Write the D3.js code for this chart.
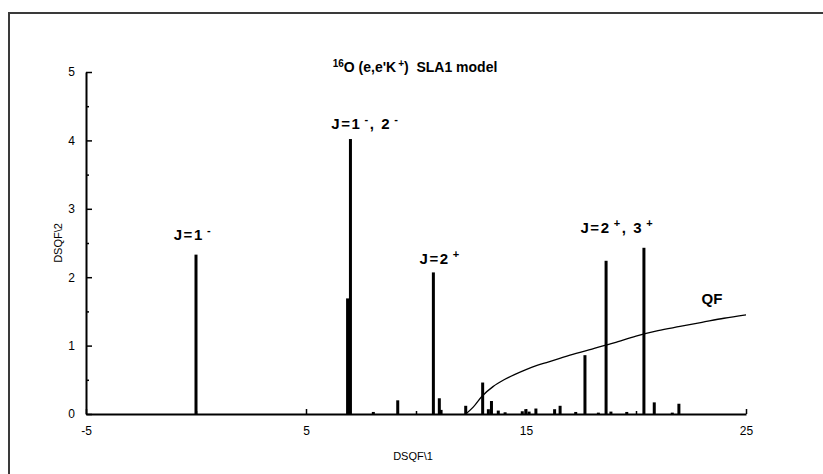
<!DOCTYPE html>
<html>
<meta charset="utf-8">
<head>
<script src="https://d3js.org/d3.v7.min.js"></script>
<style>
  body { margin: 0; background: #fff; }
  text { font-family: "Liberation Sans", Arial, sans-serif; }
</style>
</head>
<body>
<script>
// discrete peaks: position (DSQF\1) and strength (DSQF\2)
var peakE = [0, 6.89, 7.02, 8.06, 9.17, 10.79, 11.06, 11.14, 12.26, 13.03, 13.29, 13.43, 13.74, 14.05,
             14.83, 14.99, 15.14, 15.45, 16.3, 16.55, 17.26, 17.68, 18.29, 18.64, 18.86, 19.58,
             20.36, 20.83, 21.65, 21.95];
var peakS = [2.33, 1.69, 4.02, 0.03, 0.2, 2.07, 0.23, 0.06, 0.12, 0.46, 0.07, 0.19, 0.05, 0.025,
             0.04, 0.07, 0.035, 0.08, 0.07, 0.12, 0.03, 0.86, 0.02, 2.24, 0.035, 0.03,
             2.43, 0.17, 0.02, 0.15];

// quasi-free curve
var qfE = [12.26, 12.6, 13.0, 13.5, 14.0, 14.5, 15.0, 15.5, 16.0, 16.5, 17.0, 18.0, 19.0, 20.0, 21.0, 22.0, 23.0, 24.0, 25.0];
var qfS = [0, 0.1, 0.26, 0.4, 0.5, 0.58, 0.65, 0.71, 0.76, 0.81, 0.86, 0.95, 1.04, 1.14, 1.22, 1.28, 1.34, 1.40, 1.45];

var xTicks = [-5, 5, 15, 25];
var xMinor = [0, 10, 20];
var yTicks = [0, 1, 2, 3, 4, 5];
var yMinor = [0.5, 1.5, 2.5, 3.5, 4.5];

// peak labels: text pieces, 1 = superscript
var labels = [
  {x: -0.14, y: 2.55, parts: [["J=1", 0], ["-", 1]]},
  {x: 7.7,   y: 4.17, parts: [["J=1", 0], ["-", 1], [", 2", 0], ["-", 1]]},
  {x: 11.1,  y: 2.2,  parts: [["J=2", 0], ["+", 1]]},
  {x: 19.15, y: 2.65, parts: [["J=2", 0], ["+", 1], [", 3", 0], ["+", 1]]}
];

var W = 823, H = 474;
var svg = d3.select('body').append('svg').attr('width', W).attr('height', H);

// outer frame (only top and left edge visible)
svg.append('rect')
  .attr('x', 9).attr('y', 13).attr('width', 900).attr('height', 600)
  .attr('fill', 'none').attr('stroke', '#3a3a3a').attr('stroke-width', 2);

var x = d3.scaleLinear().domain([-5, 25]).range([86, 746]);
var y = d3.scaleLinear().domain([0, 5]).range([414, 72]);

// bars
svg.append('g').selectAll('rect')
  .data(peakE.map((e, i) => ({e: e, s: peakS[i]})))
  .join('rect')
  .attr('x', d => x(d.e) - 1.5)
  .attr('width', 3)
  .attr('y', d => y(d.s))
  .attr('height', d => y(0) - y(d.s))
  .attr('fill', '#000');

// QF curve
var line = d3.line()
  .x(d => x(d[0])).y(d => y(d[1]))
  .curve(d3.curveMonotoneX);
svg.append('path')
  .datum(qfE.map((e, i) => [e, qfS[i]]))
  .attr('d', line)
  .attr('fill', 'none').attr('stroke', '#000').attr('stroke-width', 1.3);

// axes
svg.append('g').attr('transform', `translate(0,${y(0)})`)
  .call(d3.axisBottom(x).tickValues(xTicks).tickSizeInner(-5).tickSizeOuter(0).tickPadding(12).tickFormat(d => String(d)));
svg.append('g').attr('transform', `translate(0,${y(0)})`)
  .call(d3.axisBottom(x).tickValues(xMinor).tickSizeInner(-3).tickSizeOuter(0).tickFormat(''))
  .call(g => g.select('.domain').remove());

svg.append('g').attr('transform', `translate(${x(-5)},0)`)
  .call(d3.axisLeft(y).tickValues(yTicks).tickSizeInner(-6).tickSizeOuter(0).tickPadding(11).tickFormat(d => String(d)));
svg.append('g').attr('transform', `translate(${x(-5)},0)`)
  .call(d3.axisLeft(y).tickValues(yMinor).tickSizeInner(-3).tickSizeOuter(0).tickFormat(''))
  .call(g => g.select('.domain').remove());

svg.selectAll('.domain').attr('stroke-width', 2);
svg.selectAll('.tick line').attr('stroke-width', 1.5);
svg.selectAll('.tick text').attr('font-size', 12).attr('font-family', '"Liberation Sans", Arial, sans-serif').attr('fill', '#000');

// axis titles
svg.append('text').attr('x', 413).attr('y', 460).attr('text-anchor', 'middle')
  .attr('font-size', 11).text('DSQF\\1');
svg.append('text').attr('transform', 'translate(62,243) rotate(-90)').attr('text-anchor', 'middle')
  .attr('font-size', 11).text('DSQF\\2');

// chart title
var t = svg.append('text').attr('x', 415).attr('y', 72).attr('text-anchor', 'middle')
  .attr('font-size', 14).attr('font-weight', 'bold');
t.append('tspan').attr('font-size', 10).attr('dy', -5).text('16');
t.append('tspan').attr('dy', 5).text("O (e,e'K");
t.append('tspan').attr('font-size', 10).attr('dy', -5).attr('dx', 2).text('+');
t.append('tspan').attr('dy', 5).text(')  SLA1 model').attr('xml:space', 'preserve');

// peak labels
labels.forEach(l => {
  var tx = svg.append('text').attr('x', x(l.x)).attr('y', y(l.y)).attr('text-anchor', 'middle')
    .attr('font-size', 15).attr('font-weight', 'bold').attr('letter-spacing', 1.6);
  var up = false;
  l.parts.forEach(p => {
    var ts = tx.append('tspan').text(p[0]);
    if (p[1]) {
      ts.attr('font-size', 11).attr('dx', 3);
      if (!up) { ts.attr('dy', -6); up = true; }
    } else if (up) { ts.attr('dy', 6); up = false; }
  });
});

svg.append('text').attr('x', 712).attr('y', 304).attr('text-anchor', 'middle')
  .attr('font-size', 15).attr('font-weight', 'bold').text('QF');
</script>
</body>
</html>
